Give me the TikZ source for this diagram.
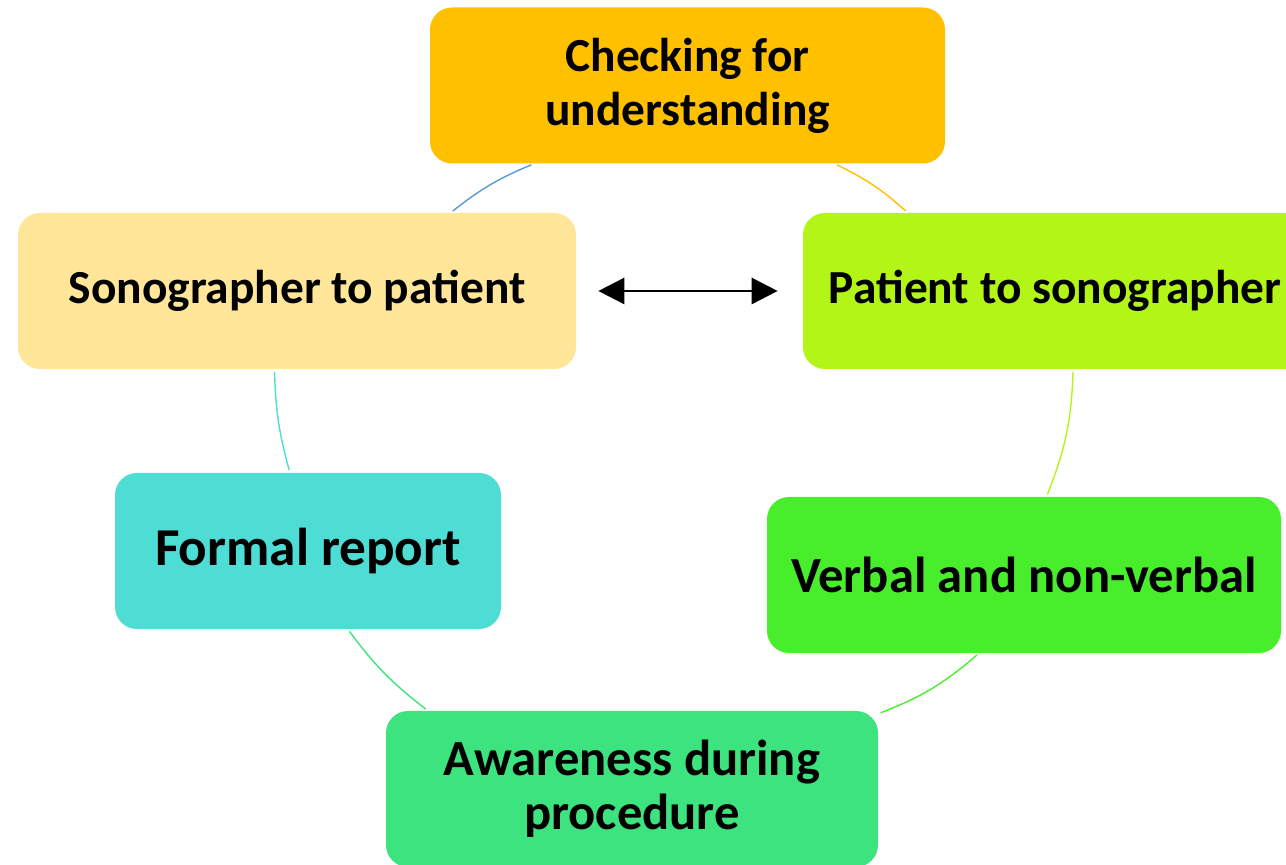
\documentclass[tikz,border=0pt]{standalone}
\usepackage{fontspec}
\setmainfont{Carlito}
\usetikzlibrary{arrows.meta}
\definecolor{checkorange}{HTML}{FFC000}
\definecolor{sonoyellow}{HTML}{FFE699}
\definecolor{patlime}{HTML}{B3F516}
\definecolor{formalcyan}{HTML}{4DDDD5}
\definecolor{verbalgreen}{HTML}{48EE2B}
\definecolor{awaregreen}{HTML}{3CE37F}
\definecolor{arcblue}{HTML}{5B9BD5}
\begin{document}
\begin{tikzpicture}[
boxnode/.style={rectangle, rounded corners=0.44cm, inner sep=0pt, minimum height=3.12cm, align=center, font=\fontsize{27}{30.7}\selectfont\bfseries},
bigbox/.style={boxnode, font=\fontsize{28.8}{30.7}\selectfont\bfseries},
arcline/.style={line width=0.8pt, shorten <=0.05cm, shorten >=0.05cm},
]
\useasboundingbox (0,0) rectangle (25.72,17.30);
\clip (0,0) rectangle (25.72,17.30);
%Nodes
\node[boxnode, fill=checkorange, minimum width=10.3cm] at (13.75,15.59) (check) {Checking for\\understanding};
\node[boxnode, fill=sonoyellow, minimum width=11.16cm] at (5.94,11.48) (sono) {Sonographer to patient};
\node[boxnode, fill=patlime, minimum width=10.08cm] at (21.10,11.48) (pat) {Patient to sonographer};
\node[boxnode, fill=formalcyan, minimum width=7.72cm, font=\fontsize{30.3}{34}\selectfont\bfseries] at (6.16,6.28) (formal) {Formal report};
\node[bigbox, fill=verbalgreen, minimum width=10.28cm] at (20.48,5.80) (verbal) {Verbal and non-verbal};
\node[bigbox, fill=awaregreen, minimum width=9.84cm] at (12.64,1.52) (aware) {Awareness during\\procedure};
%Lines
\draw[{Triangle[length=0.52cm,width=0.52cm]}-{Triangle[length=0.52cm,width=0.52cm]}, line width=1.6pt, shorten <=0.44cm, shorten >=0.5cm] (sono.east) -- (pat.west);
%Cycle arcs
\draw[arcline, arcblue] (sono.27) to[bend left=8] (check.207);
\draw[arcline, checkorange] (check.332) to[bend left=8] (pat.152);
\draw[arcline, patlime] (pat.283) to[bend left=10] (verbal.74);
\draw[arcline, verbalgreen] (verbal.240) to[bend left=10] (aware.17);
\draw[arcline, awaregreen] (aware.159) to[bend left=8] (formal.297);
\draw[arcline, formalcyan] (formal.103) to[bend left=7] (sono.254);
\end{tikzpicture}
\end{document}
